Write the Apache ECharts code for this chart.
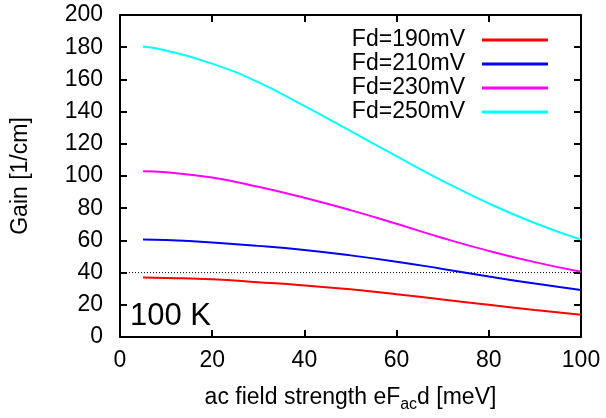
<!DOCTYPE html>
<html>
<head>
<meta charset="utf-8">
<script src="https://cdn.jsdelivr.net/npm/echarts@6/dist/echarts.min.js"></script>
<style>html,body{margin:0;padding:0;background:#fff}#c{width:606px;height:418px}</style>
</head>
<body>
<div id="c"></div>
<script>
const xValues = [5, 10, 20, 30, 40, 50, 60, 70, 80, 90, 100];
const fd190 = [37, 36.7, 35.8, 34, 32, 29.6, 26.6, 23.3, 20, 16.8, 13.8];
const fd210 = [60.5, 60.2, 58.7, 56.6, 54, 50.7, 46.8, 42.3, 37.6, 33.2, 29.2];
const fd230 = [103, 102.3, 99, 93.3, 86.5, 78.8, 70.3, 61.5, 53.5, 46.5, 40.5];
const fd250 = [180.4, 178, 169.8, 158.3, 143.5, 128, 112.3, 97, 83, 70.8, 60.5];
const seriesNames = ['Fd=190mV', 'Fd=210mV', 'Fd=230mV', 'Fd=250mV'];
const seriesColors = ['#ff0000', '#0000ff', '#ff00ff', '#00ffff'];
const refLevel = 40;
const yTicks = [0, 200, 20];
const xTicks = [0, 100, 20];

const allData = [fd190, fd210, fd230, fd250];
const font = 'Liberation Sans, Arial, sans-serif';
const fs = 23;

const chart = echarts.init(document.getElementById('c'), null, {renderer: 'canvas'});

const series = allData.map((arr, i) => ({
  name: seriesNames[i],
  type: 'line',
  data: xValues.map((x, j) => [x, arr[j]]),
  smooth: 0.5,
  symbol: 'none',
  lineStyle: {color: seriesColors[i], width: 2},
  itemStyle: {color: seriesColors[i]},
  z: 3
}));
series.push({
  name: 'ref',
  type: 'line',
  data: [[xTicks[0], refLevel], [xTicks[1], refLevel]],
  symbol: 'none',
  silent: true,
  lineStyle: {color: '#000', width: 1, type: [1, 2]},
  z: 2
});

const baseAxis = (min, max, interval) => ({
  type: 'value', min, max, interval,
  axisLine: {show: true, onZero: false, lineStyle: {color: '#000', width: 2}},
  axisTick: {show: true, inside: true, length: 7, lineStyle: {color: '#000', width: 2}},
  splitLine: {show: false},
});

chart.setOption({
  animation: false,
  backgroundColor: '#fff',
  grid: {left: 120, right: 25, top: 15, bottom: 79, containLabel: false},
  legend: {
    data: seriesNames,
    orient: 'vertical',
    right: 53,
    top: 23,
    align: 'right',
    icon: 'rect',
    itemWidth: 66,
    itemHeight: 3,
    itemGap: 0,
    textStyle: {fontFamily: font, fontSize: fs, color: '#000', lineHeight: 24, padding: [0, 12, 0, 0]}
  },
  xAxis: [
    Object.assign(baseAxis(xTicks[0], xTicks[1], xTicks[2]), {
      position: 'bottom',
      axisLabel: {fontFamily: font, fontSize: fs, color: '#000', margin: 12},
      name: '{a|ac field strength eF}{s|ac}{a|d [meV]}',
      nameLocation: 'middle',
      nameGap: 46,
      nameTextStyle: {
        fontFamily: font, fontSize: fs, color: '#000',
        rich: {
          a: {fontFamily: font, fontSize: fs, color: '#000'},
          s: {fontFamily: font, fontSize: 16, color: '#000', padding: [14, 0, 0, 0]}
        }
      }
    }),
    Object.assign(baseAxis(xTicks[0], xTicks[1], xTicks[2]), {
      position: 'top',
      axisLabel: {show: false}
    })
  ],
  yAxis: [
    Object.assign(baseAxis(yTicks[0], yTicks[1], yTicks[2]), {
      position: 'left',
      axisLabel: {fontFamily: font, fontSize: fs, color: '#000', margin: 17},
      name: 'Gain [1/cm]',
      nameLocation: 'middle',
      nameGap: 88,
      nameTextStyle: {fontFamily: font, fontSize: fs, color: '#000'}
    }),
    Object.assign(baseAxis(yTicks[0], yTicks[1], yTicks[2]), {
      position: 'right',
      axisLabel: {show: false}
    })
  ],
  graphic: [{
    type: 'text',
    left: 130,
    top: 301,
    style: {text: '100 K', fontFamily: font, fontSize: 31, fill: '#000'}
  }],
  series
});
</script>
</body>
</html>
